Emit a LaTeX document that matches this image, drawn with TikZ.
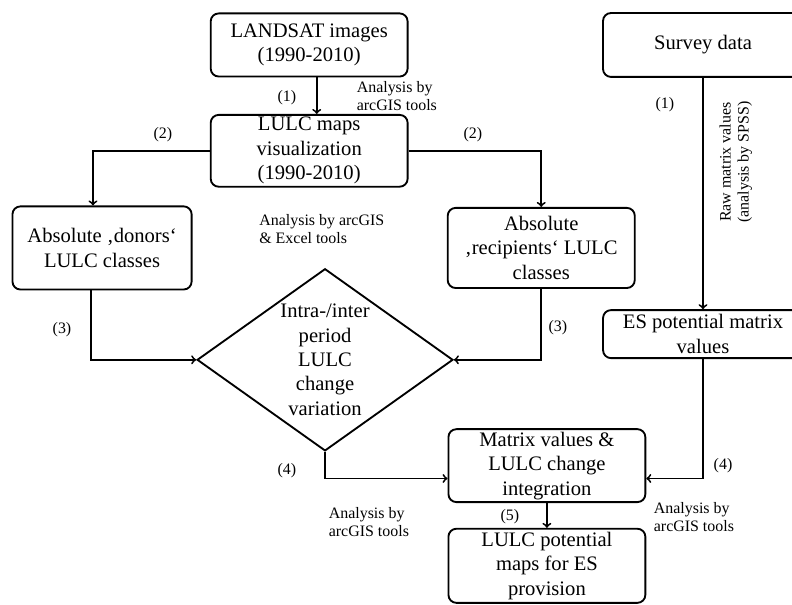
\documentclass[tikz,border=0pt]{standalone}
\usepackage{fontspec}
\setmainfont{Liberation Serif}
\usetikzlibrary{calc,arrows,shapes,positioning}
\tikzset{
    component/.style={
    rectangle,rounded corners=6pt,draw=black,line width=1.4pt,align=center,inner sep=1pt,
    font=\fontsize{15.5}{18.4}\selectfont
    },
    decision/.style={
    diamond,draw=black,line width=1.4pt,inner sep=0pt
    },
    dtext/.style={
    align=center,inner sep=0pt,font=\fontsize{15.5}{18.4}\selectfont
    },
    num/.style={
    font=\fontsize{12}{13.5}\selectfont
    },
    remark/.style={
    align=left,font=\fontsize{12}{13.5}\selectfont
    },
}
\begin{document}
\begin{tikzpicture}[node distance=2cm, on grid, auto, line width=1.4pt, >=to]
   \useasboundingbox (0,0) rectangle (20.955,-16.007);
   \clip (0,0) rectangle (20.955,-16.007);
   %landsat
   \node[component,minimum width=5.21cm,minimum height=1.67cm] (landsat) at (8.18,-1.19) {LANDSAT images\\(1990-2010)};
   %lulc maps
   \node[component,minimum width=5.21cm,minimum height=1.90cm] (lulcmaps) [below = 2.80cm of landsat] {LULC maps\\visualization\\(1990-2010)};
   %donors
   \node[component,minimum width=4.74cm,minimum height=2.20cm] (donors) [below left = 2.57cm and 5.48cm of lulcmaps] {Absolute ‚donors‘\\LULC classes};
   %recipients
   \node[component,minimum width=4.95cm,minimum height=2.12cm] (recipients) [below right = 2.57cm and 6.14cm of lulcmaps] {Absolute\\‚recipients‘ LULC\\classes};
   %variation
   \node[decision,minimum width=6.77cm,minimum height=4.82cm,
     label={[dtext]center:Intra-/inter\\period\\LULC\\change\\variation}] (diam) [below right = 5.53cm and 0.42cm of lulcmaps] {};
   %matrix
   \node[component,minimum width=5.21cm,minimum height=1.93cm] (matrix) [below right = 2.80cm and 5.87cm of diam] {Matrix values \&\\LULC change\\integration};
   %potential
   \node[component,minimum width=5.21cm,minimum height=1.96cm] (potential) [below = 2.65cm of matrix] {LULC potential\\maps for ES\\provision};
   %survey
   \node[component,minimum width=5.29cm,minimum height=1.69cm] (survey) [right = 10.42cm of landsat] {Survey data};
   %es
   \node[component,minimum width=5.29cm,minimum height=1.27cm] (es) [below = 7.65cm of survey] {ES potential matrix\\values};

   %labels
   \node[num] (n1a) at (7.59,-2.59) {(1)};
   \node[remark] (r1) at (10.50,-2.54) {Analysis by\\arcGIS tools};
   \node[num] (n2a) at (4.31,-3.57) {(2)};
   \node[num] (n2b) at (12.51,-3.57) {(2)};
   \node[remark,anchor=west] (r2) at (6.72,-6.06) {Analysis by arcGIS\\\& Excel tools};
   \node[num] (n3a) at (1.64,-8.73) {(3)};
   \node[num] (n3b) at (14.76,-8.68) {(3)};
   \node[num] (n1b) at (17.59,-2.78) {(1)};
   \node[remark,align=center,rotate=90] (r3) at (19.47,-4.29) {Raw matrix values\\(analysis by SPSS)};
   \node[num] (n4a) at (7.59,-12.46) {(4)};
   \node[remark] (r4) at (9.76,-13.81) {Analysis by\\arcGIS tools};
   \node[num] (n5) at (13.49,-13.68) {(5)};
   \node[num] (n4b) at (19.13,-12.33) {(4)};
   \node[remark] (r5) at (18.36,-13.68) {Analysis by\\arcGIS tools};

   %connectors
   \draw[->] ($(landsat.south)+(0.2,0)$) -- ($(lulcmaps.north)+(0.2,0)$);
   \draw[->] (lulcmaps.west) -| ($(donors.north)+(-0.24,0)$);
   \draw[->] (lulcmaps.east) -| (recipients.north);
   \draw[->] ($(donors.south)+(-0.3,0)$) |- (diam.west);
   \draw[->] (recipients.south) |- (diam.east);
   \draw[->] (diam.south) |- ($(matrix.west)+(0,-0.34)$);
   \draw[->] (survey) -- (survey |- es.north);
   \draw[->] (es.south) |- ($(matrix.east)+(0,-0.34)$);
   \draw[->] (matrix) -- (potential);
\end{tikzpicture}
\end{document}
